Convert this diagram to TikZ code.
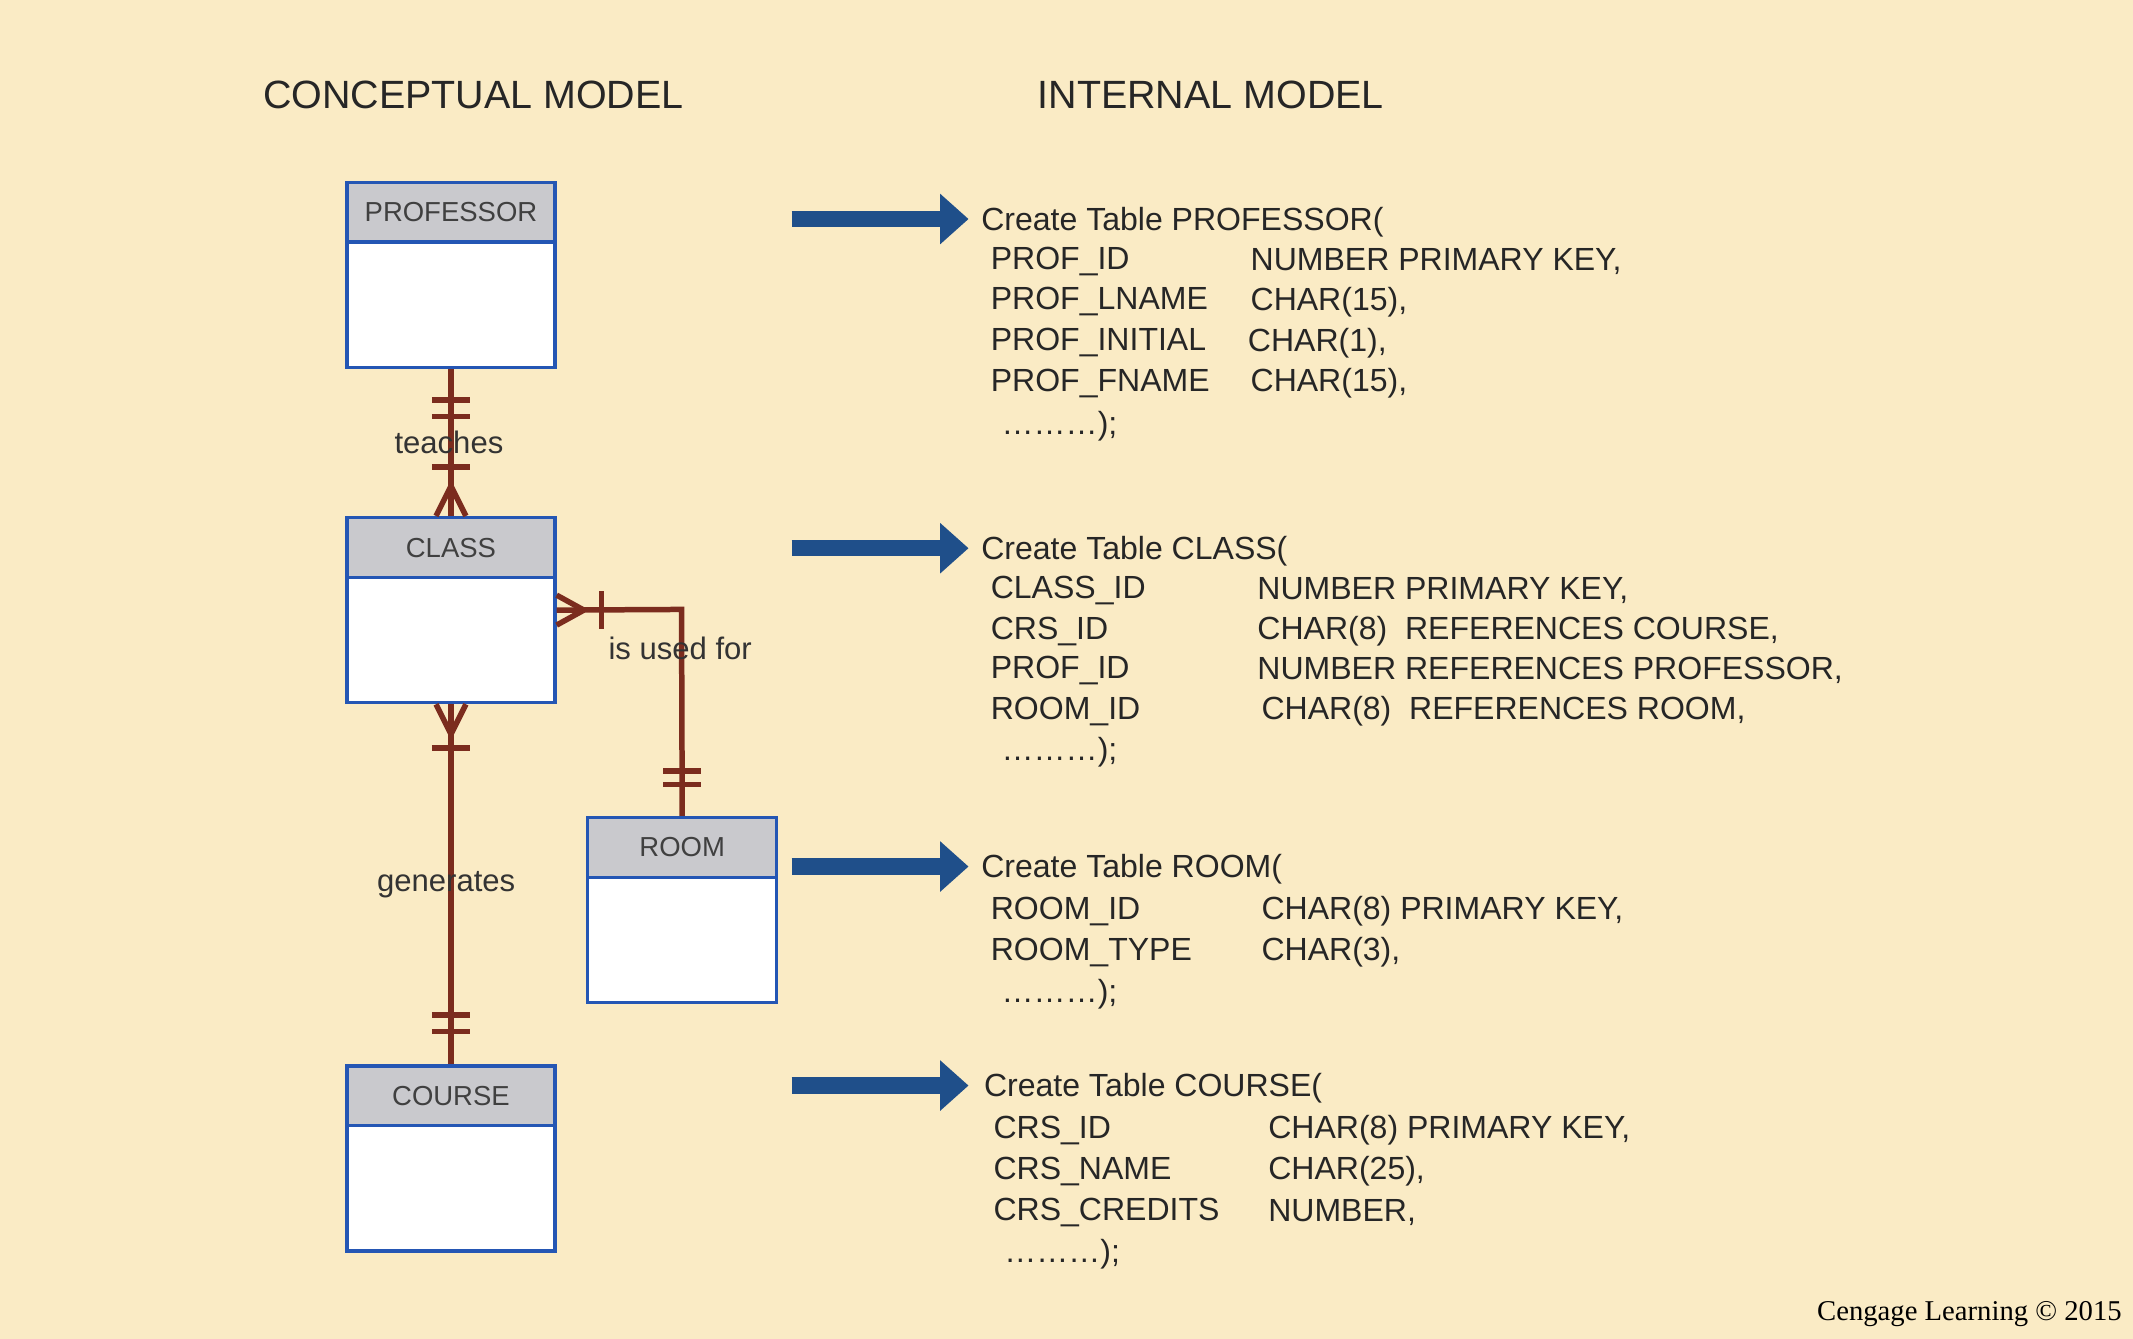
\documentclass[tikz,border=0pt]{standalone}
\usepackage{fontspec}
\setmainfont{Liberation Sans}
\newfontfamily\serifcr{Liberation Serif}
\usetikzlibrary{arrows.meta,calc}
\definecolor{bgcol}{HTML}{FAEBC5}
\definecolor{boxblue}{HTML}{2456B4}
\definecolor{hdrgray}{HTML}{C9C9CD}
\definecolor{relred}{HTML}{7B2C1E}
\definecolor{arrblue}{HTML}{1F4F8A}
\begin{document}
\begin{tikzpicture}[
    x = 0.02cm,
    y = -0.02cm,
    >=stealth,
    entity/.style = {draw=boxblue, fill=white, line width=1.4pt,
              minimum width=3.06cm, minimum height=2.72cm, inner sep=0pt},
    header/.style = {draw=boxblue, fill=hdrgray, line width=1.4pt, anchor=north,
              minimum width=3.06cm, minimum height=0.88cm, inner sep=0pt,
              font=\fontsize{11.5}{13}\selectfont, text=black!75},
    rel/.style = {draw=relred, line width=2.3pt},
    bigarrow/.style = {draw=arrblue, line width=0.24cm,
              -{Triangle[length=0.42cm,width=0.72cm]}},
    code/.style = {anchor=west, inner sep=0pt, font=\fontsize{13.4}{15}\selectfont, text=black!85},
    lbl/.style = {inner sep=0pt, font=\fontsize{13}{15}\selectfont, text=black!80},
    title/.style = {inner sep=0pt, font=\fontsize{16.5}{19}\selectfont, text=black!85},
    ]

\fill[bgcol] (0,0) rectangle (1568,984);
\useasboundingbox (0,0) rectangle (1568,984);

% titles
\node[title] (t_conc) at (348,70) {CONCEPTUAL MODEL};
\node[title] (t_int) at (890,70) {INTERNAL MODEL};

% entities
\node[entity] (prof) at (331.5,202) {};
\node[header] (prof_h) at (prof.north) {PROFESSOR};
\node[entity] (class) at (331.5,448.5) {};
\node[header] (class_h) at (class.north) {CLASS};
\node[entity, minimum width=2.78cm] (room) at (501.5,669) {};
\node[header, minimum width=2.78cm] (room_h) at (room.north) {ROOM};
\node[entity] (course) at (331.5,851.5) {};
\node[header] (course_h) at (course.north) {COURSE};

% teaches
\draw[rel] (prof.south) -- (class_h.north);
\draw[rel] ($(prof.south)+(-14,23)$) -- ++(28,0);
\draw[rel] ($(prof.south)+(-14,35)$) -- ++(28,0);
\draw[rel] ($(class_h.north)+(-14,-36)$) -- ++(28,0);
\draw[rel] ($(class_h.north)+(0,-22)$) -- ($(class_h.north)+(-11,0)$);
\draw[rel] ($(class_h.north)+(0,-22)$) -- ($(class_h.north)+(11,0)$);
\node[lbl] (l_teach) at (330,325) {teaches};

% is used for
\coordinate (corner) at (501,448);
\draw[rel] (class.east) -- (corner) -- (room_h.north);
\draw[rel] ($(class.east)+(20,0)$) -- ($(class.east)+(0,-11)$);
\draw[rel] ($(class.east)+(20,0)$) -- ($(class.east)+(0,11)$);
\draw[rel] ($(class.east)+(33,-14)$) -- ++(0,28);
\draw[rel] ($(room_h.north)+(-14,-33)$) -- ++(28,0);
\draw[rel] ($(room_h.north)+(-14,-23)$) -- ++(28,0);
\node[lbl] (l_used) at (500,477) {is used for};

% generates
\draw[rel] (class.south) -- (course_h.north);
\draw[rel] ($(class.south)+(0,22)$) -- ($(class.south)+(-11,0)$);
\draw[rel] ($(class.south)+(0,22)$) -- ($(class.south)+(11,0)$);
\draw[rel] ($(class.south)+(-14,32)$) -- ++(28,0);
\draw[rel] ($(course_h.north)+(-14,-36)$) -- ++(28,0);
\draw[rel] ($(course_h.north)+(-14,-24)$) -- ++(28,0);
\node[lbl] (l_gen) at (328,650) {generates};

% arrows
\foreach \i/\y in {1/161, 2/403, 3/637, 4/798} {
  \coordinate (a\i_s) at (582,\y);
  \coordinate (a\i_e) at (712,\y);
  \draw[bigarrow] (a\i_s) -- (a\i_e);
}

% PROFESSOR table
\node[code] (p0) at (721,163) {Create Table PROFESSOR(};
\node[code] (p1) at (728,192) {PROF\_ID};
\node[code] (p1b) at (919,192) {NUMBER PRIMARY KEY,};
\node[code] (p2) at (728,222) {PROF\_LNAME};
\node[code] (p2b) at (919,222) {CHAR(15),};
\node[code] (p3) at (728,252) {PROF\_INITIAL};
\node[code] (p3b) at (917,252) {CHAR(1),};
\node[code] (p4) at (728,282) {PROF\_FNAME};
\node[code] (p4b) at (919,282) {CHAR(15),};
\node[code] (p5) at (736,313) {\dots\dots\dots);};

% CLASS table
\node[code] (c0) at (721,405) {Create Table CLASS(};
\node[code] (c1) at (728,434) {CLASS\_ID};
\node[code] (c1b) at (924,434) {NUMBER PRIMARY KEY,};
\node[code] (c2) at (728,464) {CRS\_ID};
\node[code] (c2b) at (924,464) {CHAR(8)\ \ REFERENCES COURSE,};
\node[code] (c3) at (728,493) {PROF\_ID};
\node[code] (c3b) at (924,493) {NUMBER REFERENCES PROFESSOR,};
\node[code] (c4) at (728,523) {ROOM\_ID};
\node[code] (c4b) at (927,523) {CHAR(8)\ \ REFERENCES ROOM,};
\node[code] (c5) at (736,553) {\dots\dots\dots);};

% ROOM table
\node[code] (r0) at (721,639) {Create Table ROOM(};
\node[code] (r1) at (728,670) {ROOM\_ID};
\node[code] (r1b) at (927,670) {CHAR(8) PRIMARY KEY,};
\node[code] (r2) at (728,700) {ROOM\_TYPE};
\node[code] (r2b) at (927,700) {CHAR(3),};
\node[code] (r3) at (736,731) {\dots\dots\dots);};

% COURSE table
\node[code] (k0) at (723,800) {Create Table COURSE(};
\node[code] (k1) at (730,831) {CRS\_ID};
\node[code] (k1b) at (932,831) {CHAR(8) PRIMARY KEY,};
\node[code] (k2) at (730,861) {CRS\_NAME};
\node[code] (k2b) at (932,861) {CHAR(25),};
\node[code] (k3) at (730,891) {CRS\_CREDITS};
\node[code] (k3b) at (932,891) {NUMBER,};
\node[code] (k4) at (738,922) {\dots\dots\dots);};

\node[anchor=east, inner sep=0pt, font=\serifcr\fontsize{12}{14}\selectfont] (copy) at (1560,966) {Cengage Learning \textcopyright\ 2015};

\end{tikzpicture}
\end{document}
